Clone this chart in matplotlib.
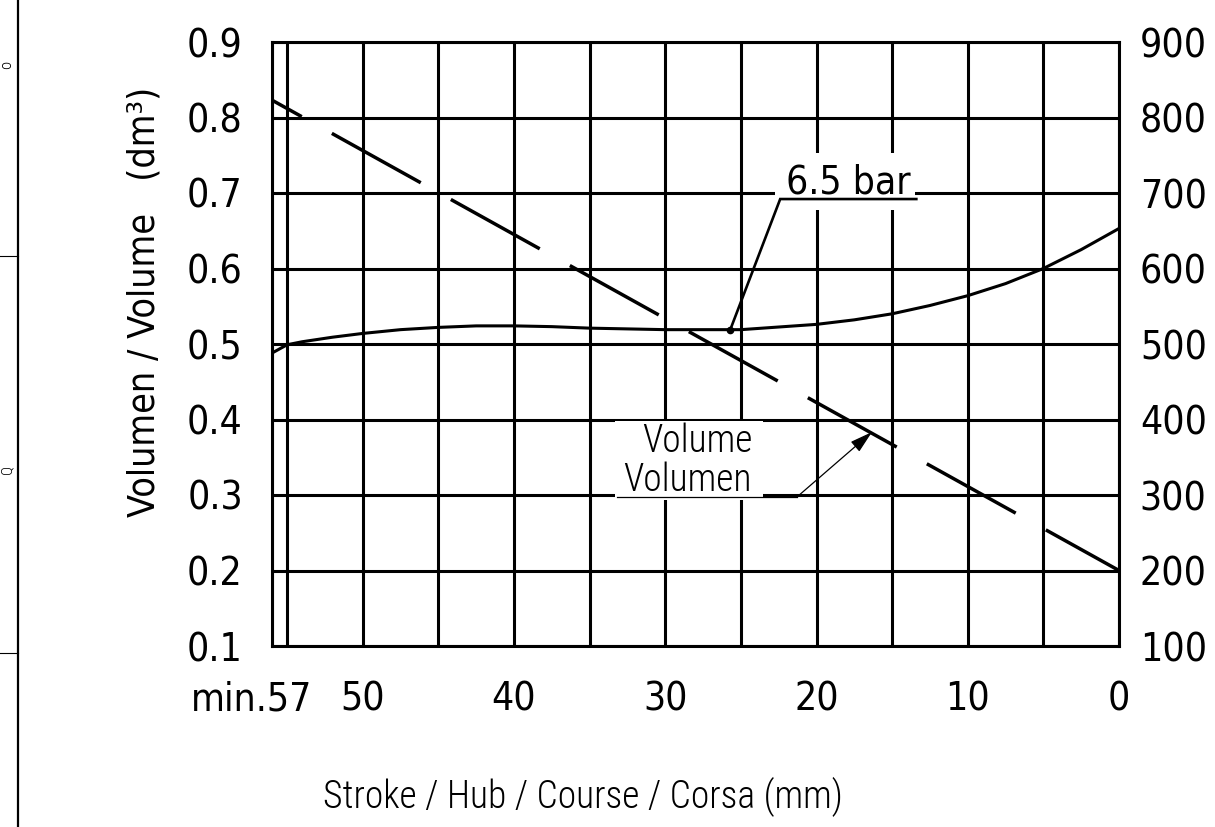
import matplotlib
matplotlib.use("Agg")
import matplotlib.pyplot as plt
from matplotlib.lines import Line2D
from matplotlib.patches import Rectangle
from matplotlib.transforms import ScaledTranslation

plt.rcParams["lines.scale_dashes"] = False

# ---------------- data ----------------
stroke_mm = [56, 55, 54, 52, 50, 47.5, 45, 42.5, 40, 37.5, 35, 30, 25, 20, 17.5, 15, 12.5, 10, 7.5, 5, 2.5, 0]
volume_dm3 = [0.488, 0.499, 0.503, 0.509, 0.514, 0.519, 0.522, 0.524, 0.524, 0.523, 0.521,
              0.519, 0.519, 0.526, 0.532, 0.540, 0.551, 0.564, 0.580, 0.600, 0.625, 0.653]

force_stroke = [56, 0]
force_N = [823, 200]

x_ticks = [56, 50, 40, 30, 20, 10, 0]
x_ticklabels = ["min.57", "50", "40", "30", "20", "10", "0"]
x_minor = [55, 45, 35, 25, 15, 5]
y_left_ticks = [0.1, 0.2, 0.3, 0.4, 0.5, 0.6, 0.7, 0.8, 0.9]
y_right_ticks = [100, 200, 300, 400, 500, 600, 700, 800, 900]

pressure_label = "6.5 bar"
pressure_point = (25.7, 0.519)

# ---------------- fonts ----------------
TICK_FONT = dict(family=["DejaVu Sans"], stretch="condensed", size=28)
THIN_FONT = dict(family=["Roboto Condensed", "Roboto", "DejaVu Sans"], weight="light", size=27)

W, H = 1215, 827
fig = plt.figure(figsize=(W / 100, H / 100), dpi=100)
ax = fig.add_axes([272 / W, 1 - 646 / H, (1119 - 272) / W, (646 - 42) / H])
ax.set_xlim(56, 0)
ax.set_ylim(0.1, 0.9)

LW = 2.2
for s in ax.spines.values():
    s.set_linewidth(LW)

ax.set_xticks(x_ticks)
ax.set_xticklabels(x_ticklabels)
ax.set_xticks(x_minor, minor=True)
ax.set_yticks(y_left_ticks)
ax.set_yticklabels([f"{v:.1f}" for v in y_left_ticks])
ax.tick_params(axis="both", which="both", length=0)
ax.tick_params(axis="x", pad=25)
ax.tick_params(axis="y", pad=21)
for lab in ax.get_xticklabels() + ax.get_yticklabels():
    lab.set_family(TICK_FONT["family"])
    lab.set_stretch(TICK_FONT["stretch"])
    lab.set_size(TICK_FONT["size"])
first = ax.get_xticklabels()[0]
first.set_transform(first.get_transform() + ScaledTranslation(-20 / 100, 0, fig.dpi_scale_trans))

ax.grid(True, which="both", axis="x", color="black", linewidth=LW)
ax.grid(True, which="major", axis="y", color="black", linewidth=LW)

# volume curve
ax.plot(stroke_mm, volume_dm3, color="black", linewidth=LW, solid_capstyle="butt",
        solid_joinstyle="round", zorder=3)

# right axis with the dashed line
ax2 = ax.twinx()
ax2.set_ylim(100, 900)
ax2.set_yticks(y_right_ticks)
ax2.set_yticklabels([str(v) for v in y_right_ticks])
ax2.tick_params(axis="y", length=0, pad=15)
for lab in ax2.get_yticklabels():
    lab.set_family(TICK_FONT["family"])
    lab.set_stretch(TICK_FONT["stretch"])
    lab.set_size(TICK_FONT["size"])
for s in ax2.spines.values():
    s.set_visible(False)
ax2.plot(force_stroke, force_N, color="black", linewidth=2.5,
         linestyle=(48.7, (73.2, 24.8)), dash_capstyle="butt", zorder=3)

# axis labels
ax.set_xlabel("Stroke / Hub / Course / Corsa (mm)", **THIN_FONT)
ax.xaxis.set_label_coords((583 - 272) / 847, -(797 - 646) / 604)
ax.xaxis.label.set_va("center")
ax.set_ylabel("Volumen / Volume   (dm³)", family=TICK_FONT["family"],
              stretch=TICK_FONT["stretch"], size=27)
ax.yaxis.set_label_coords((145 - 272) / 847, (646 - 302) / 604)
ax.yaxis.label.set_va("center")

# ---- 6.5 bar annotation ----
ax.add_patch(Rectangle((13.49, 0.6775), 22.74 - 13.49, 0.753 - 0.6775,
                       facecolor="white", edgecolor="none", zorder=2.5))
ax.plot([pressure_point[0], 22.4, 13.4], [pressure_point[1], 0.692, 0.692],
        color="black", linewidth=1.9, zorder=4, solid_joinstyle="miter")
ax.plot([pressure_point[0]], [pressure_point[1]], marker="o", markersize=4.5,
        color="black", zorder=5)
ax.text(17.92, 0.700, pressure_label, ha="center", va="baseline", zorder=5,
        family=TICK_FONT["family"], stretch=TICK_FONT["stretch"], size=TICK_FONT["size"])

# ---- Volume / Volumen annotation ----
ax.add_patch(Rectangle((23.54, 0.2934), 33.32 - 23.54, 0.3985 - 0.2934,
                       facecolor="white", edgecolor="none", zorder=2.5))
ax.text(24.26, 0.3574, "Volume", ha="right", va="baseline", zorder=5, **THIN_FONT)
ax.text(24.26, 0.3057, "Volumen", ha="right", va="baseline", zorder=5, **THIN_FONT)
ax.plot([33.18, 21.29], [0.2974, 0.2974], color="black", linewidth=0.9, zorder=4)
ax.annotate("", xy=(16.33, 0.3834), xytext=(21.29, 0.2974),
            arrowprops=dict(arrowstyle="-|>,head_length=0.7,head_width=0.2",
                            mutation_scale=20, color="black", lw=0.9,
                            shrinkA=0, shrinkB=0),
            zorder=5)

# ---- drawing-frame remnants on the left edge ----
fig.add_artist(Line2D([17.5 / W, 17.5 / W], [0, 1], color="black", linewidth=1.6))
fig.add_artist(Line2D([0, 17.5 / W], [1 - 256 / H, 1 - 256 / H], color="black", linewidth=0.8))
fig.add_artist(Line2D([0, 17.5 / W], [1 - 653 / H, 1 - 653 / H], color="black", linewidth=0.8))
fig.text(7 / W, 1 - 65 / H, "o", rotation=90, ha="center", va="center", size=12,
         family=THIN_FONT["family"], weight="light")
fig.text(7 / W, 1 - 470 / H, "Q", rotation=90, ha="center", va="center", size=11,
         family=THIN_FONT["family"], weight="light")

fig.savefig("out.png", dpi=100)
